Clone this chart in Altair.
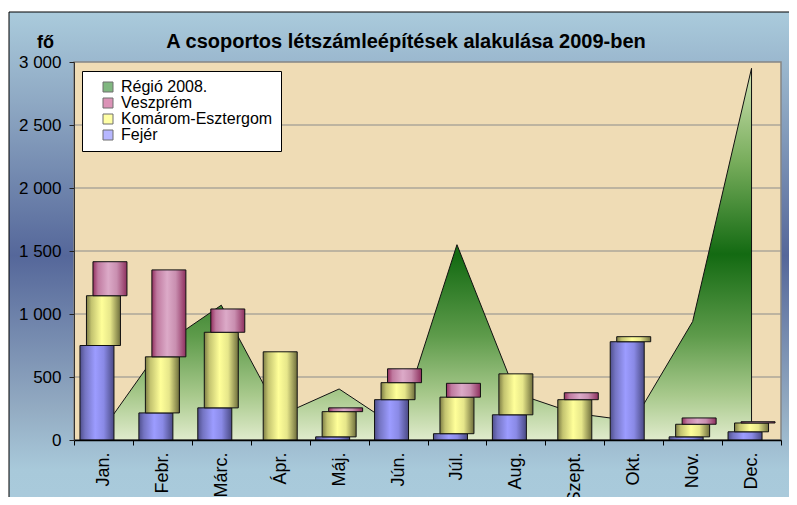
import altair as alt
import pandas as pd

# ---- data ----
months = ["Jan.", "Febr.", "Márc.", "Ápr.", "Máj.", "Jún.", "Júl.", "Aug.",
          "Szept.", "Okt.", "Nov.", "Dec."]
fejer = [750, 215, 255, 0, 25, 320, 50, 200, 0, 780, 25, 65]
komarom = [395, 445, 600, 700, 200, 135, 290, 325, 320, 40, 100, 70]
veszprem = [270, 690, 185, 0, 30, 110, 110, 0, 55, 0, 50, 10]
regio_2008 = [90, 750, 1070, 195, 405, 95, 1550, 370, 212, 150, 940, 2950]
series_names = ["Régió 2008.", "Veszprém", "Komárom-Esztergom", "Fejér"]
y_ticks = [0, 500, 1000, 1500, 2000, 2500, 3000]
grid_values = [500, 1000, 1500, 2000, 2500]
title_text = "A csoportos létszámleépítések alakulása 2009-ben"

FONT = "Liberation Sans"
W, H = 707, 378

# stacked table built from the lists
rows = []
for i, m in enumerate(months):
    base = 0
    for name, vals in [("Fejér", fejer), ("Komárom-Esztergom", komarom), ("Veszprém", veszprem)]:
        v = vals[i]
        rows.append({"month": m, "series": name, "start": base, "end": base + v, "value": v})
        base += v
bars_df = pd.DataFrame(rows)
area_df = pd.DataFrame({"month": months, "regio": regio_2008})


def hgrad(stops):
    return alt.LinearGradient(gradient="linear", x1=0, x2=1, y1=0, y2=0,
                              stops=[alt.GradientStop(color=c, offset=o) for o, c in stops])


def vgrad(stops):
    return alt.LinearGradient(gradient="linear", x1=0, x2=0, y1=0, y2=1,
                              stops=[alt.GradientStop(color=c, offset=o) for o, c in stops])


xscale = alt.Scale(domain=months, paddingInner=0, paddingOuter=0)
xaxis = alt.Axis(title=None, labelAngle=-90, labelFontSize=18, labelFont=FONT, labelColor="black",
                 labelPadding=7, tickBand="extent", tickSize=5, tickColor="black",
                 domainColor="black", domainWidth=1.5, grid=False, zindex=1)
yscale = alt.Scale(domain=[0, 3000], nice=False)
yaxis = alt.Axis(values=y_ticks, title="fő", titleAngle=0, titleX=-29, titleY=-15,
                 titleAlign="center", titleBaseline="alphabetic", titleFontSize=18,
                 titleFontWeight="bold", titleFont=FONT, titleColor="black",
                 labelExpr="replace(format(datum.value, ','), ',', ' ')",
                 labelFontSize=17, labelFont=FONT, labelColor="black", labelPadding=8,
                 tickSize=5, tickColor="#222", domainColor="#333", grid=False, zindex=1)

X = alt.X("month:N", sort=months, scale=xscale, axis=xaxis)

one = pd.DataFrame({"a": [0]})

outer_bg = alt.Chart(one).mark_rect(
    fill=vgrad([(0, "#aacbdc"), (0.18, "#8ea8c3"), (0.48, "#55679a"),
                (0.78, "#93abc2"), (0.9, "#a8c9da"), (1, "#aacbdc")]),
    stroke="black", strokeWidth=1,
).encode(x=alt.value(-65), x2=alt.value(W + 40), y=alt.value(-50), y2=alt.value(H + 80))

title_mark = alt.Chart(one).mark_text(
    text=title_text, font=FONT, fontSize=20, fontWeight="bold", color="black",
    align="center", baseline="alphabetic",
).encode(x=alt.value(332), y=alt.value(-14))

plot_bg = alt.Chart(one).mark_rect(fill="#efdcb5", stroke="#858585", strokeWidth=1.5).encode(
    x=alt.value(0), x2=alt.value(W), y=alt.value(0), y2=alt.value(H))

grid = alt.Chart(pd.DataFrame({"g": grid_values})).mark_rule(color="#8c8c8c", strokeWidth=1.2).encode(
    y=alt.Y("g:Q", scale=yscale, axis=yaxis))

area = alt.Chart(area_df).mark_area(
    fill=vgrad([(0, "#cfe2b2"), (0.25, "#78ad5c"), (0.5, "#136a12"),
                (0.72, "#5e9b4b"), (0.88, "#a8c98c"), (1, "#e0ebcc")]),
    stroke="#111", strokeWidth=1,
).encode(x=X, y=alt.Y("regio:Q", scale=yscale, axis=yaxis))


def bar_layer(name, grad, offset):
    return alt.Chart(bars_df).transform_filter(
        (alt.datum.series == name) & (alt.datum.value > 0)
    ).mark_bar(fill=grad, stroke="#111", strokeWidth=1, size=34, xOffset=offset).encode(
        x=X, y=alt.Y("start:Q", scale=yscale, axis=yaxis), y2="end:Q")


bar_f = bar_layer("Fejér", hgrad([(0, "#4f4f8c"), (0.15, "#7474c2"), (0.45, "#9c9cff"),
                                  (0.7, "#8a8ae6"), (1, "#4a4a84")]), -6.5)
bar_k = bar_layer("Komárom-Esztergom", hgrad([(0, "#7d7d45"), (0.15, "#c4c470"), (0.45, "#ffff99"),
                                             (0.7, "#e6e68a"), (1, "#6e6e3c")]), 0)
bar_v = bar_layer("Veszprém", hgrad([(0, "#93305f"), (0.15, "#c07aa0"), (0.45, "#dcaac8"),
                                    (0.7, "#c98fb0"), (1, "#8e2f5e")]), 6.5)

legend_layer = alt.Chart(pd.DataFrame({"series": series_names})).transform_filter("false").mark_square(
    filled=True, stroke="#333", strokeWidth=1).encode(
    fill=alt.Fill("series:N",
                  scale=alt.Scale(domain=series_names,
                                  range=["#4b9a4b", "#cc6699", "#ffff80", "#9999ff"]),
                  legend=alt.Legend(title=None, orient="none", legendX=8, legendY=9,
                                    fillColor="white", strokeColor="black", padding=8,
                                    symbolType="square", symbolSize=100,
                                    symbolStrokeColor="#333", symbolStrokeWidth=1,
                                    symbolOffset=10, labelOffset=5, rowPadding=0,
                                    labelFontSize=16, labelFont=FONT, labelColor="black",
                                    labelLimit=400)))

chart = alt.layer(outer_bg, title_mark, plot_bg, grid, area, bar_f, bar_k, bar_v, legend_layer).properties(
    width=W, height=H,
    autosize=alt.AutoSizeParams(type="none"),
    padding={"left": 66, "top": 54, "right": 8, "bottom": 57},
    background="white",
).configure_view(stroke=None)

chart.save("out.html", embed_options={"renderer": "svg", "actions": False})
